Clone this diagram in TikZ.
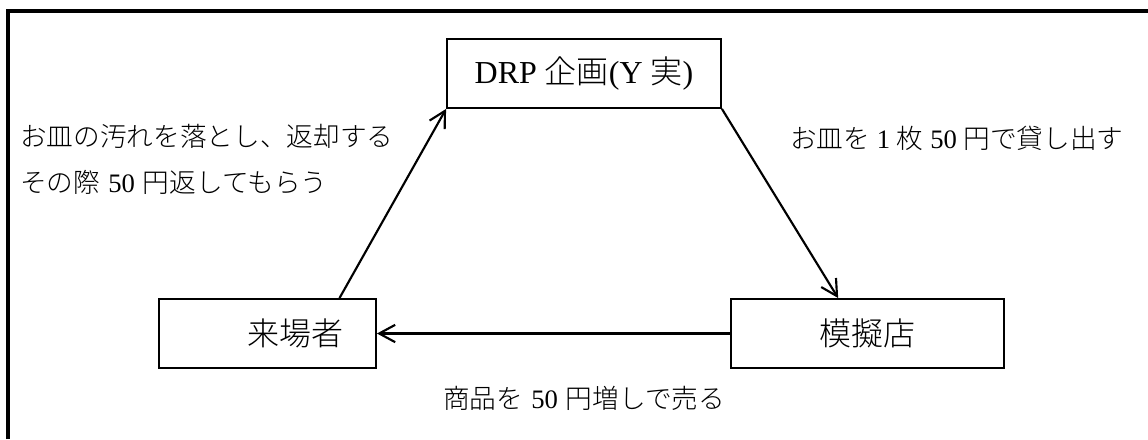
\documentclass[tikz,border=0pt]{standalone}
\usepackage{fontspec}
\setmainfont{Liberation Serif}
\IfFontExistsTF{Noto Sans CJK JP Light}{\newfontfamily\cjk{Noto Sans CJK JP Light}}{\newfontfamily\cjk{Noto Sans CJK JP}}
\usetikzlibrary{arrows.meta}
\begin{document}
\begin{tikzpicture}[x=0.75pt,y=-0.75pt,
  box/.style={draw, line width=1.4pt, minimum height=51.75pt, inner sep=0pt, font=\fontsize{24}{28}\selectfont},
  conn/.style={line width=1.6pt, -{Straight Barb[length=12pt,width=13pt,line width=1.6pt]}},
  lab/.style={anchor=west, inner sep=0pt, font=\fontsize{20}{24}\selectfont}]
\useasboundingbox (0,0) rectangle (1148,439);
\draw[line width=3pt] (8,439) -- (8,11) -- (1148,11);
\node[box, minimum width=205.5pt] (drp) at (584,73.5) {DRP {\cjk 企画}(Y {\cjk 実})};
\node[box, minimum width=162.75pt] (raijo) at (267.5,333.5) {\hspace*{42pt}{\cjk 来場者}};
\node[box, minimum width=204.75pt] (moki) at (867.5,333.5) {{\cjk 模擬店}};
\draw[conn] ([xshift=54pt]raijo.north) -- (drp.south west);
\draw[conn] (drp.south east) -- ([xshift=-22pt]moki.north);
\draw[conn] (moki.west) -- (raijo.east);
\node[lab] (l1) at (20,136.5) {{\cjk お皿の汚れを落とし、返却する}};
\node[lab] (l2) at (20,182.5) {{\cjk その際}\hspace{0.3em}50\hspace{0.3em}{\cjk 円返してもらう}};
\node[lab] (r1) at (790,138) {{\cjk お皿を}\hspace{0.25em}1\hspace{0.25em}{\cjk 枚}\hspace{0.25em}50\hspace{0.25em}{\cjk 円で貸し出す}};
\node[lab] (b1) at (443,398) {{\cjk 商品を}\hspace{0.3em}50\hspace{0.3em}{\cjk 円増しで売る}};
\end{tikzpicture}
\end{document}
